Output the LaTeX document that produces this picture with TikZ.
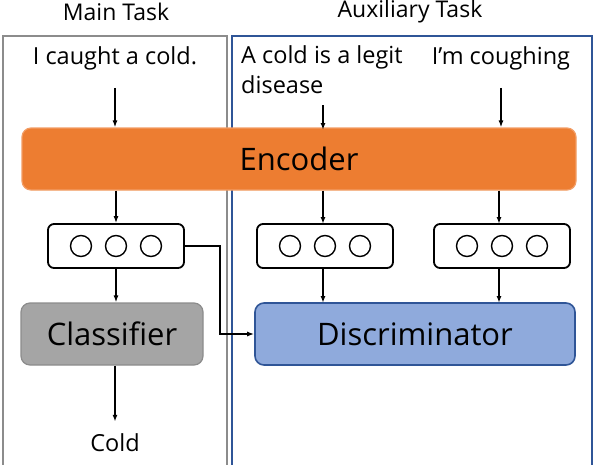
\documentclass[tikz,border=0pt]{standalone}
\usepackage{fontspec}
\setmainfont{Open Sans}
\usetikzlibrary{positioning}
\usetikzlibrary{calc}
\usetikzlibrary{arrows.meta}
\definecolor{encorange}{RGB}{237,125,49}
\definecolor{clsgray}{RGB}{165,165,165}
\definecolor{discblue}{RGB}{143,170,220}
\definecolor{darkblue}{RGB}{47,85,151}
\definecolor{framegray}{RGB}{140,140,140}

\begin{document}
\begin{tikzpicture}[x=1pt, y=-1pt,
    arr/.style={-{Latex[length=7pt,width=5pt]}, line width=1.8pt},
    vecbox/.style={draw, rounded corners=6pt, line width=1.8pt, minimum width=136pt, minimum height=44pt},
    unit/.style={draw, circle, line width=1.4pt, minimum size=21pt, inner sep=0pt},
    block/.style={rounded corners=9pt, line width=1.2pt, minimum height=62pt, font=\fontsize{31}{33}\selectfont},
    small/.style={font=\fontsize{23.5}{30}\selectfont, inner sep=2pt}]
    \useasboundingbox (0,0) rectangle (594,464);

    % task frames
    \draw[framegray, line width=2.6pt] (3,36) rectangle (227,480);
    \draw[darkblue, line width=2.2pt] (232,36) rectangle (592,480);
    \node[font=\fontsize{23}{25}\selectfont] (maintitle) at (116,12) {Main Task};
    \node[font=\fontsize{23}{25}\selectfont] (auxtitle) at (410,12) {Auxiliary Task};

    % inputs
    \node[small] (in1) at (115,58) {I caught a cold.};
    \node[small, align=left, anchor=north west] (in2) at (239,43) {A cold is a legit\\disease};
    \node[small] (in3) at (501,58) {I’m coughing};

    \node[block, fill=encorange, draw=encorange!75!white, minimum width=554pt] (enc) at (299,159) {Encoder};

    \draw[arr, shorten <=16pt] (in1.south) -- (in1.south |- enc.north);
    \draw[arr] (323,105) -- (323,130);
    \draw[arr, shorten <=16pt] (in3.south) -- (in3.south |- enc.north);

    % hidden vectors
    \node[vecbox] (vec1) at (116,246) {};
    \node[vecbox] (vec2) at (325,246) {};
    \node[vecbox] (vec3) at (502,246) {};
    \foreach \v in {vec1,vec2,vec3}
        \foreach \dx [count=\i] in {-35,0,35}
            \node[unit] (\v-u\i) at ($(\v)+(\dx,0)$) {};

    \draw[arr] (enc.south -| vec1) -- (vec1.north);
    \draw[arr] (enc.south -| 323,0) -- (323,224);
    \draw[arr] (enc.south -| 499,0) -- (499,224);

    \node[block, fill=clsgray, draw=framegray, minimum width=182pt] (cls) at (112,334) {Classifier};
    \node[block, fill=discblue, draw=darkblue, line width=1.6pt, minimum width=320pt] (disc) at (415,334) {Discriminator};

    \draw[arr] (vec1.south) -- (vec1.south |- cls.north);
    \draw[arr] (vec1.east) -- ++(35,0) |- (disc.west);
    \draw[arr] (323,268) -- (323,303);
    \draw[arr] (499,268) -- (499,303);

    \node[small] (out) at (115,443) {Cold};
    \draw[arr, shorten >=10pt] (cls.south -| out) -- (out.north);
\end{tikzpicture}
\end{document}
